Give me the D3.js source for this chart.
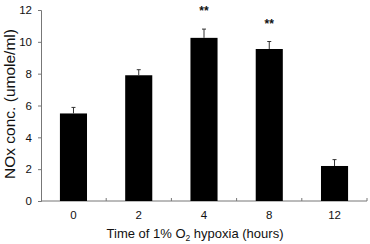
<!DOCTYPE html>
<html lang="en">
<head>
<meta charset="UTF-8">
<title>NOx conc.</title>
<style>
  html, body { margin: 0; padding: 0; background: #fff; }
  text { font-family: "Liberation Sans", Arial, sans-serif; fill: #111; }
  .axis .domain, .axis line { stroke: #777; }
</style>
<script src="https://cdn.jsdelivr.net/npm/d3@7"></script>
</head>
<body>
<svg id="chart" width="370" height="244"></svg>
<script>
  const categories = ['0', '2', '4', '8', '12']
  const values = [5.5, 7.9, 10.25, 9.55, 2.2]
  const errors = [0.38, 0.35, 0.55, 0.47, 0.4]
  const marks = ['', '', '**', '**', '']
  const yTicks = [0, 2, 4, 6, 8, 10, 12]

  const svg = d3.select('#chart')
  const margin = { top: 10, right: 3, bottom: 43, left: 41 }
  const WIDTH = 370 - margin.left - margin.right
  const HEIGHT = 244 - margin.top - margin.bottom

  const chart = svg.append('g')
    .attr('transform', `translate(${margin.left}, ${margin.top})`)

  const x = d3.scaleBand().domain(categories).range([0, WIDTH]).paddingInner(0.585).paddingOuter(0.29)
  const y = d3.scaleLinear().domain([0, 12]).range([HEIGHT, 0])

  // y axis
  const yAxis = chart.append('g').attr('class', 'axis')
    .call(d3.axisLeft(y).tickValues(yTicks).tickSize(3).tickPadding(6))
  yAxis.selectAll('text').style('font-size', '11.5px')

  // x axis: line plus small ticks at the band edges
  const xAxis = chart.append('g').attr('class', 'axis')
    .attr('transform', `translate(0, ${HEIGHT})`)
  xAxis.append('line').attr('x1', 0).attr('x2', WIDTH).attr('stroke', '#777')
  const edges = d3.range(1, categories.length + 1).map(i => i * WIDTH / categories.length)
  xAxis.selectAll('.edge').data(edges).enter().append('line')
    .attr('x1', d => d).attr('x2', d => d).attr('y1', 0).attr('y2', -3)
    .attr('stroke', '#777')
  xAxis.selectAll('.lab').data(categories).enter().append('text')
    .attr('x', d => x(d) + x.bandwidth() / 2)
    .attr('y', 18)
    .attr('text-anchor', 'middle')
    .style('font-size', '11.5px')
    .text(d => d)

  // bars
  chart.selectAll('.bar').data(values).enter().append('rect')
    .attr('x', (d, i) => x(categories[i]))
    .attr('y', d => y(d))
    .attr('width', x.bandwidth())
    .attr('height', d => HEIGHT - y(d))
    .attr('fill', '#000')

  // error bars (upper only)
  const eb = chart.selectAll('.err').data(values).enter().append('g')
    .attr('transform', (d, i) => `translate(${x(categories[i]) + x.bandwidth() / 2}, 0)`)
  eb.append('line')
    .attr('y1', d => y(d)).attr('y2', (d, i) => y(d + errors[i]))
    .attr('stroke', '#333').attr('stroke-width', 1)
  eb.append('line')
    .attr('x1', -2).attr('x2', 2)
    .attr('y1', (d, i) => y(d + errors[i])).attr('y2', (d, i) => y(d + errors[i]))
    .attr('stroke', '#333').attr('stroke-width', 1)

  // significance marks
  chart.selectAll('.sig').data(values).enter().append('text')
    .attr('x', (d, i) => x(categories[i]) + x.bandwidth() / 2)
    .attr('y', (d, i) => y(d + errors[i]) - 14)
    .attr('text-anchor', 'middle')
    .style('font-size', '12px')
    .style('font-weight', 'bold')
    .text((d, i) => marks[i])

  // axis titles
  const xt = svg.append('text')
    .attr('x', 195).attr('y', 238)
    .attr('text-anchor', 'middle')
    .style('font-size', '13px')
  xt.append('tspan').text('Time of 1% O')
  xt.append('tspan').attr('dy', 3).style('font-size', '8.5px').text('2')
  xt.append('tspan').attr('dy', -3).text(' hypoxia (hours)')

  svg.append('text')
    .attr('transform', 'translate(15, 104) rotate(-90)')
    .attr('text-anchor', 'middle')
    .style('font-size', '15.5px')
    .text('NOx conc. (umole/ml)')
</script>
</body>
</html>
